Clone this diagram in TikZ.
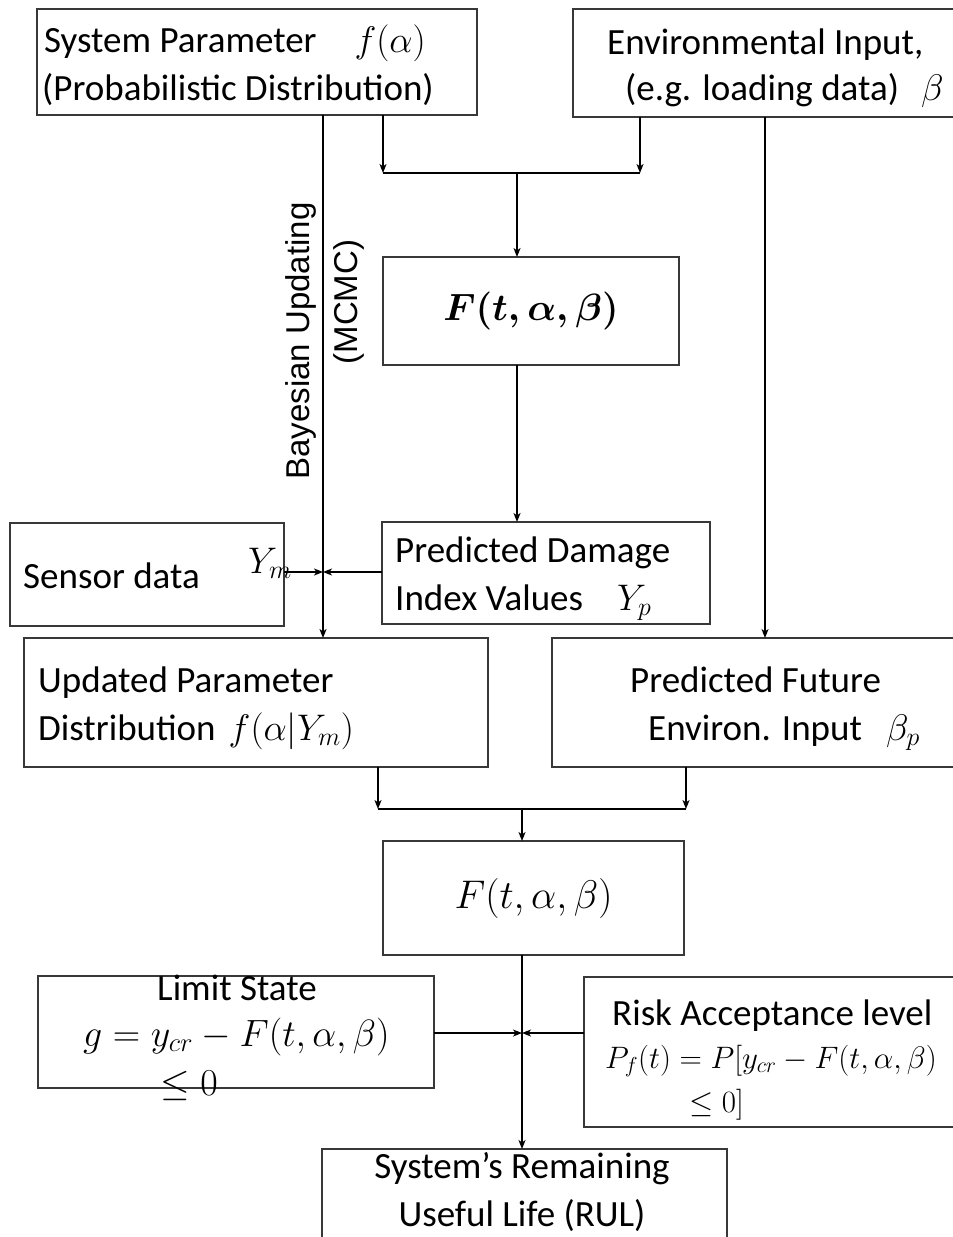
\RequirePackage{fix-cm}
\documentclass[tikz,border=0pt]{standalone}
\usepackage{fontspec}
\setmainfont{Carlito}
\newfontfamily\labelsans{Liberation Sans}
\usetikzlibrary{arrows.meta}

\begin{document}
\begin{tikzpicture}[x=1pt,y=-1pt,
  box/.style={draw=black!78, line width=1.8pt, inner sep=0pt, outer sep=0pt},
  link/.style={draw=black, line width=1.3pt},
  arr/.style={link, -{Stealth[length=9pt,width=7pt,inset=2.5pt]}},
  lbl/.style={inner sep=0pt, anchor=base west, font=\fontsize{37}{46}\selectfont},
  clbl/.style={lbl, anchor=base},
  small/.style={inner sep=0pt, anchor=base west, font=\fontsize{31}{40}\selectfont},
]
\useasboundingbox (0,0) rectangle (953,1237);

% ---- boxes (right-hand boxes run past the page edge) ----
\node[box, minimum width=440pt, minimum height=106pt] (sys)    at (257,62) {};
\node[box, minimum width=387pt, minimum height=108pt] (env)    at (766.5,63) {};
\node[box, minimum width=296pt, minimum height=108pt,
      font=\fontsize{38}{46}\selectfont\boldmath]   (F1)     at (531,311) {$F(t,\alpha,\beta)$};
\node[box, minimum width=274pt, minimum height=103pt] (sensor) at (147,574.5) {};
\node[box, minimum width=328pt, minimum height=102pt] (pdmg)   at (546,573) {};
\node[box, minimum width=464pt, minimum height=129pt] (upd)    at (256,702.5) {};
\node[box, minimum width=408pt, minimum height=129pt] (pfut)   at (756,702.5) {};
\node[box, minimum width=301pt, minimum height=114pt,
      font=\fontsize{40}{46}\selectfont]            (F2)     at (533.5,898) {$F(t,\alpha,\beta)$};
\node[box, minimum width=396pt, minimum height=112pt] (ls)     at (236,1032) {};
\node[box, minimum width=376pt, minimum height=150pt] (risk)   at (772,1052) {};
\node[box, minimum width=405pt, minimum height=101pt] (rul)    at (524.5,1199.5) {};

% ---- box texts ----
\node[lbl] (sys-a) at (44,52)  {System Parameter\hspace{38pt}$f(\alpha)$};
\node[lbl] (sys-b) at (42,100) {(Probabilistic Distribution)};

\node[lbl] (env-a) at (607,54)  {Environmental Input,};
\node[lbl] (env-b) at (625,100) {(e.g. loading data)\hspace{22pt}$\beta$};

\node[lbl] (sensor-a)  at (23,588)  {Sensor data};
\node[lbl] (sensor-ym) at (248,573) {$Y_m$};

\node[lbl] (pdmg-a) at (395,562) {Predicted Damage};
\node[lbl] (pdmg-b) at (395,610) {Index Values\hspace{34pt}$Y_p$};

\node[lbl] (upd-a) at (38,692) {Updated Parameter};
\node[lbl] (upd-b) at (38,740) {Distribution\hspace{13pt}$f(\alpha|Y_m)$};

\node[lbl] (pfut-a) at (630,692) {Predicted Future};
\node[lbl] (pfut-b) at (648,740) {Environ. Input\hspace{24pt}$\beta_p$};

\node[clbl] (ls-a) at (237,1000) {Limit State};
\node[lbl, font=\fontsize{38}{46}\selectfont] (ls-b) at (83,1046) {$g = y_{cr} - F(t,\alpha,\beta)$};
\node[lbl, font=\fontsize{38}{46}\selectfont] (ls-c) at (160,1095) {$\le 0$};

\node[lbl]   (risk-a) at (612,1025) {Risk Acceptance level};
\node[small] (risk-b) at (605,1068) {$P_f(t) = P[y_{cr} - F(t,\alpha,\beta)$};
\node[small] (risk-c) at (689,1112) {$\le 0]$};

\node[clbl] (rul-a) at (522,1178) {System’s Remaining};
\node[clbl] (rul-b) at (522,1226) {Useful Life (RUL)};

% ---- junction points ----
\coordinate (bx)  at (323,0);
\coordinate (j1l) at (383,173);
\coordinate (j1r) at (640,173);
\coordinate (j1)  at (517,173);
\coordinate (ev)  at (765,0);
\coordinate (m1)  at (323,572);
\coordinate (j2l) at (378,809);
\coordinate (j2r) at (686,809);
\coordinate (j2)  at (522,809);
\coordinate (m2)  at (522,1033);

% ---- connectors ----
\draw[arr] (sys.south -| bx) -- (upd.north -| bx);
\draw[arr] (sys.south -| j1l) -- (j1l);
\draw[arr] (env.south -| j1r) -- (j1r);
\draw[link] (j1l) -- (j1r);
\draw[arr] (j1) -- (j1 |- F1.north);
\draw[arr] (F1.south -| j1) -- (pdmg.north -| j1);
\draw[arr] (env.south -| ev) -- (pfut.north -| ev);
\draw[arr] (sensor.east |- m1) -- (m1);
\draw[arr] (pdmg.west |- m1) -- (m1);
\draw[arr] (upd.south -| j2l) -- (j2l);
\draw[arr] (pfut.south -| j2r) -- (j2r);
\draw[link] (j2l) -- (j2r);
\draw[arr] (j2) -- (j2 |- F2.north);
\draw[arr] (F2.south -| j2) -- (rul.north -| j2);
\draw[arr] (ls.east |- m2) -- (m2);
\draw[arr] (risk.west |- m2) -- (m2);

% ---- label beside the updating path ----
\node[rotate=90, inner sep=0pt, align=center,
      font=\labelsans\fontsize{33}{48}\selectfont] (bay) at (325,341)
  {Bayesian Updating\\\hspace*{78pt}(MCMC)};
\end{tikzpicture}
\end{document}
